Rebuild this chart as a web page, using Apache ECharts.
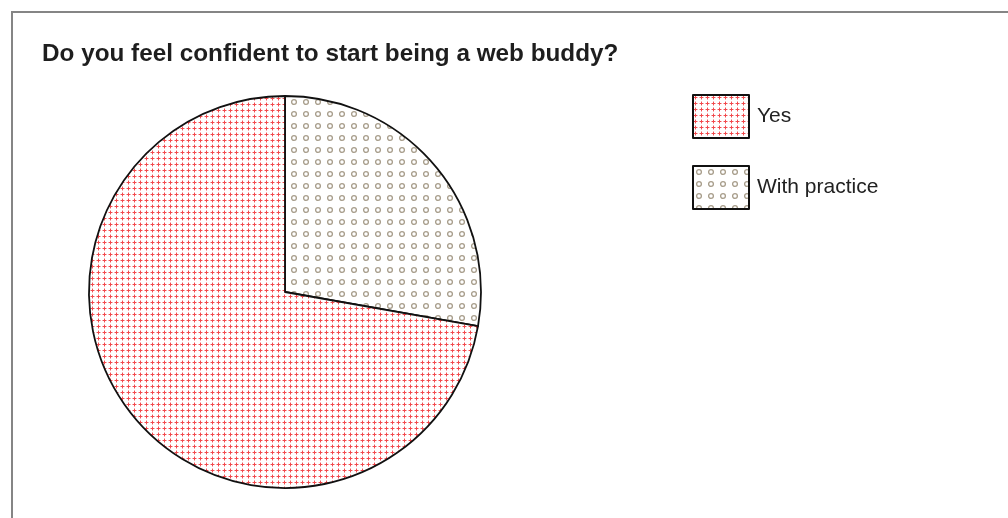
<!DOCTYPE html>
<html>
<head>
<meta charset="utf-8">
<script src="https://cdn.jsdelivr.net/npm/echarts@6/dist/echarts.min.js"></script>
<style>html,body{margin:0;padding:0;background:#fff;}#c{width:1008px;height:518px;}</style>
</head>
<body>
<div id="c"></div>
<script>
const titleText = 'Do you feel confident to start being a web buddy?';
const categories = ['With practice', 'Yes'];
const values = [5, 13];
const legendOrder = ['Yes', 'With practice'];

function crossPattern() {
  const c = document.createElement('canvas');
  c.width = 6; c.height = 6;
  const g = c.getContext('2d');
  g.fillStyle = '#fff'; g.fillRect(0, 0, 6, 6);
  g.fillStyle = '#f24a4d';
  g.fillRect(2, 1, 1, 3);
  g.fillRect(1, 2, 3, 1);
  g.fillStyle = 'rgba(242,74,77,0.45)';
  g.fillRect(2, 0, 1, 1); g.fillRect(2, 4, 1, 1);
  g.fillRect(0, 2, 1, 1); g.fillRect(4, 2, 1, 1);
  return c;
}
function circlePattern() {
  const c = document.createElement('canvas');
  c.width = 12; c.height = 12;
  const g = c.getContext('2d');
  g.fillStyle = '#fff'; g.fillRect(0, 0, 12, 12);
  g.strokeStyle = '#a89e8c';
  g.lineWidth = 1.3;
  g.beginPath(); g.arc(6, 6, 2.4, 0, Math.PI * 2); g.stroke();
  return c;
}
const fills = { 'Yes': { image: crossPattern(), repeat: 'repeat' },
                'With practice': { image: circlePattern(), repeat: 'repeat' } };

const chart = echarts.init(document.getElementById('c'), null, { renderer: 'canvas' });
chart.setOption({
  animation: false,
  backgroundColor: '#fff',
  graphic: [{
    type: 'rect', shape: { x: 12, y: 12, width: 1100, height: 600 },
    style: { fill: 'none', stroke: '#858585', lineWidth: 2 }, silent: true
  }],
  title: {
    text: titleText, left: 37, top: 37,
    textStyle: { fontFamily: 'Liberation Sans', fontWeight: 'bold', fontSize: 24.3, color: '#1e1e1e' }
  },
  legend: {
    orient: 'vertical', left: 692, top: 94, padding: 0,
    icon: 'rect',
    itemWidth: 56, itemHeight: 43, itemGap: 26,
    data: legendOrder,
    textStyle: { fontFamily: 'Liberation Sans', fontSize: 21, color: '#222', padding: [0, 0, 0, 3] },
    selectedMode: false
  },
  series: [{
    type: 'pie',
    center: [285, 292], radius: 196,
    startAngle: 90, clockwise: true,
    label: { show: false }, labelLine: { show: false },
    emphasis: { disabled: true },
    itemStyle: { borderColor: '#111', borderWidth: 1.8 },
    data: categories.map((n, i) => ({ name: n, value: values[i], itemStyle: { color: fills[n] } }))
  }]
});
</script>
</body>
</html>
